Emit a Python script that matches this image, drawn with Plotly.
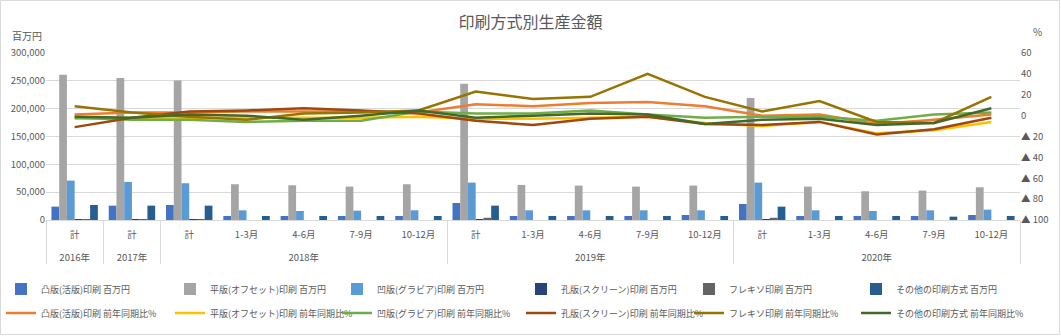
import plotly.graph_objects as go

years = ["2016年", "2017年", "2018年", "2018年", "2018年", "2018年", "2018年",
         "2019年", "2019年", "2019年", "2019年", "2019年",
         "2020年", "2020年", "2020年", "2020年", "2020年"]
periods = ["計", "計", "計", "1-3月", "4-6月", "7-9月", "10-12月",
           "計", "1-3月", "4-6月", "7-9月", "10-12月",
           "計", "1-3月", "4-6月", "7-9月", "10-12月"]

# 生産金額（百万円）
toppan = [24000, 25800, 27000, 7200, 7200, 7200, 7200, 30600, 7200, 7200, 7200, 9000, 28800, 7200, 7200, 7200, 9000]
heiban = [261000, 255000, 250800, 64200, 62400, 60000, 64200, 244800, 63000, 61800, 60000, 61800, 219000, 60000, 51600, 52800, 58800]
ouhan = [70800, 68400, 66000, 17400, 16200, 16800, 17400, 67200, 17400, 17400, 17400, 17400, 67200, 17400, 16200, 17400, 18600]
kouhan = [1500, 1500, 1500, None, None, None, None, 1500, None, None, None, None, 1500, None, None, None, None]
flexo = [1500, 1500, 1500, None, None, None, None, 4000, None, None, None, None, 4000, None, None, None, None]
other = [27000, 25800, 25800, 7200, 7200, 7200, 7200, 25800, 7200, 7200, 7200, 7200, 24000, 7200, 7200, 6000, 7200]

# 前年同期比（%）
toppan_pct = [1, 3, 3, 4, 4, 4, 3, 11, 9, 12, 13, 9, 0, 1, -8, -4, 1]
heiban_pct = [-3, -2, -2, -2, -2, -2, -1, -3, -3, -2, -1, -7, -10, -6, -17, -14, -6]
ouhan_pct = [-2, -4, -4, -6, -5, -5, 4, 2, 2, 5, 1, -2, -1, -1, -5, 1, 3]
kouhan_pct = [-11, -2, 4, 5, 7, 5, 2, -5, -9, -3, -1, -8, -9, -6, -18, -13, -2]
flexo_pct = [9, 3, -1, -4, 2, 3, 5, 23, 16, 18, 40, 18, 4, 14, -6, -7, 18]
other_pct = [-1, -2, 1, 0, -4, 0, 5, -2, 0, 2, 1, -8, -4, -3, -9, -7, 7]

right_ticks = [60, 40, 20, 0, -20, -40, -60, -80, -100]
right_text = ["60", "40", "20", "0", "▲ 20", "▲ 40", "▲ 60", "▲ 80", "▲ 100"]

bar_series = [
    ("凸版(活版)印刷 百万円", toppan, "#4472C4"),
    ("平版(オフセット)印刷 百万円", heiban, "#A5A5A5"),
    ("凹版(グラビア)印刷 百万円", ouhan, "#5B9BD5"),
    ("孔版(スクリーン)印刷 百万円", kouhan, "#264478"),
    ("フレキソ印刷 百万円", flexo, "#636363"),
    ("その他の印刷方式 百万円", other, "#255E91"),
]
line_series = [
    ("凸版(活版)印刷 前年同期比%", toppan_pct, "#ED7D31"),
    ("平版(オフセット)印刷 前年同期比%", heiban_pct, "#FFC000"),
    ("凹版(グラビア)印刷 前年同期比%", ouhan_pct, "#70AD47"),
    ("孔版(スクリーン)印刷 前年同期比%", kouhan_pct, "#9E480E"),
    ("フレキソ印刷 前年同期比%", flexo_pct, "#997300"),
    ("その他の印刷方式 前年同期比%", other_pct, "#43682B"),
]

FONT = "Noto Sans CJK JP"
GRAY = "#595959"

W, H = 1061, 336
L, R, T, B = 46, 41, 53, 116
pw, ph = W - L - R, H - T - B

def px_x(xpix):
    return (xpix - L) / pw

def px_y(ypix):
    return (H - B - ypix) / ph

# legend text start positions (pixels) per column, and row centres
col_text_x = [28, 197, 364, 548, 716, 883]
row_y = [289, 313]
TEXT_OFFSET = 27

# outer labels get a leading line break so they sit lower, as in the original
x = [["<br>" + y for y in years], periods]

fig = go.Figure()
legends = {}
k = 0
for row, series in enumerate([bar_series, line_series]):
    for col, (name, vals, color) in enumerate(series):
        k += 1
        lname = "legend" if k == 1 else f"legend{k}"
        if row == 0:
            fig.add_trace(go.Bar(x=x, y=vals, name=name, marker_color=color,
                                 marker_line_width=0, yaxis="y", legend=lname,
                                 showlegend=True))
        else:
            fig.add_trace(go.Scatter(x=x, y=vals, name=name, mode="lines",
                                     line=dict(color=color, width=2.5),
                                     yaxis="y2", legend=lname, showlegend=True))
        legends[lname] = dict(orientation="h", xanchor="left", yanchor="middle",
                              x=px_x(col_text_x[col] - TEXT_OFFSET),
                              y=px_y(row_y[row]),
                              font=dict(size=9, color=GRAY, family=FONT),
                              itemwidth=30, bgcolor="rgba(0,0,0,0)")

fig.update_layout(
    width=W, height=H,
    showlegend=True,
    margin=dict(l=L, r=R, t=T, b=B, autoexpand=False),
    paper_bgcolor="white", plot_bgcolor="white",
    font=dict(family=FONT, color=GRAY, size=10),
    barmode="group", bargap=0.19, bargroupgap=0,
    title=dict(text="印刷方式別生産金額", x=0.5, xanchor="center",
               y=1 - 22 / H, yanchor="middle",
               font=dict(size=16, color=GRAY, family=FONT)),
    xaxis=dict(type="multicategory", showgrid=False, showline=True,
               linecolor="#D9D9D9", linewidth=1, ticks="",
               ticklabelstandoff=6,
               showdividers=True, dividercolor="#D9D9D9", dividerwidth=1,
               tickfont=dict(size=9.5, color=GRAY, family=FONT)),
    yaxis=dict(range=[0, 300000], dtick=50000, tickformat=",",
               showgrid=True, gridcolor="#D9D9D9", gridwidth=1,
               zeroline=False, showline=False,
               tickfont=dict(size=9.5, color=GRAY, family=FONT)),
    yaxis2=dict(range=[-100, 60], overlaying="y", side="right",
                tickvals=right_ticks, ticktext=right_text,
                showgrid=False, zeroline=False, showline=False,
                tickfont=dict(size=9.5, color=GRAY, family=FONT)),
    annotations=[
        dict(text="百万円", xref="paper", yref="paper",
             x=px_x(10), y=px_y(35), xanchor="left", yanchor="middle",
             showarrow=False, font=dict(size=10, color=GRAY, family=FONT)),
        dict(text="%", xref="paper", yref="paper",
             x=px_x(1031), y=px_y(31), xanchor="left", yanchor="middle",
             showarrow=False, font=dict(size=10, color=GRAY, family=FONT)),
    ],
    shapes=[dict(type="rect", xref="paper", yref="paper",
                 x0=px_x(0.5), x1=px_x(W - 1.5),
                 y0=px_y(H - 1.5), y1=px_y(0.5),
                 line=dict(color="#D9D9D9", width=1), layer="below")],
)
fig.update_layout(**legends)

fig.write_html("out.html")
